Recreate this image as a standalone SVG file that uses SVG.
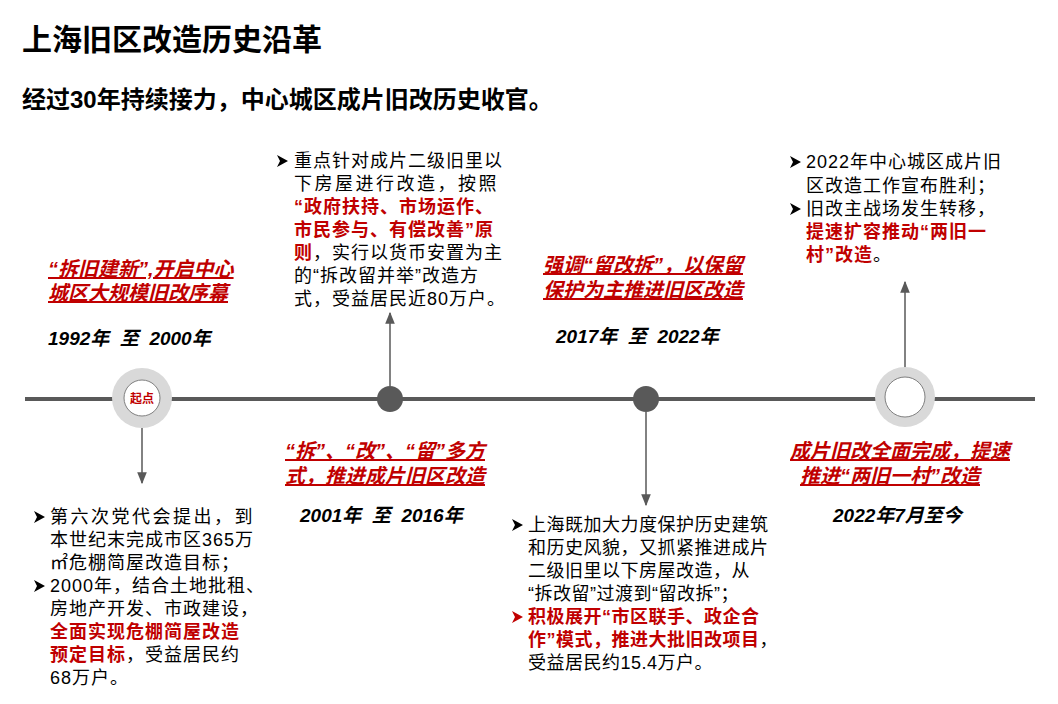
<svg xmlns="http://www.w3.org/2000/svg" width="1058" height="704" viewBox="0 0 1058 704">
<style>
text{font-family:"Liberation Sans","Noto Sans CJK SC",sans-serif;fill:#000}
.h1{font-size:30px;font-weight:bold}
.h2{font-size:24px;font-weight:bold}
.rt{font-size:20px;font-weight:bold;font-style:italic;fill:#c00000;text-decoration:underline}
.dt{font-size:19px;font-weight:bold;font-style:italic}
.b{font-size:18px;letter-spacing:1px}
.r{fill:#c00000;font-weight:bold}
.bul{fill:#000}
.ln{stroke:#595959;stroke-width:1.5;fill:none}
</style>
<defs>
<marker id="ar" viewBox="0 0 10 10" refX="9" refY="5" markerWidth="8" markerHeight="8" orient="auto"><path d="M0,1 L10,5 L0,9 z" fill="#595959"/></marker>
<path id="bu" d="M0,0 L11,6 L0,12 L3,6 z"/>
</defs>
<rect width="1058" height="704" fill="#fff"/>
<text class="h1" x="22" y="50">上海旧区改造历史沿革</text>
<text class="h2" x="22" y="108">经过30年持续接力，中心城区成片旧改历史收官。</text>
<g id="connectors">
<line x1="25" y1="399" x2="1035" y2="399" stroke="#595959" stroke-width="4"/>
<line class="ln" x1="142" y1="428" x2="142" y2="483" marker-end="url(#ar)"/>
<line class="ln" x1="390" y1="386" x2="390" y2="313" marker-end="url(#ar)"/>
<line class="ln" x1="646" y1="412" x2="646" y2="505" marker-end="url(#ar)"/>
<line class="ln" x1="905" y1="368" x2="905" y2="282" marker-end="url(#ar)"/>
</g>
<g id="n1">
<circle cx="142" cy="398" r="30" fill="#d9d9d9"/>
<circle cx="142" cy="398" r="18" fill="#fff" stroke="#7f7f7f" stroke-width="1"/>
<text x="142" y="403" text-anchor="middle" font-size="12" font-weight="bold" fill="#c00000" style="fill:#c00000">起点</text>
</g>
<g id="n2"><circle cx="390" cy="399" r="13" fill="#595959"/></g>
<g id="n3"><circle cx="646" cy="399" r="13" fill="#595959"/></g>
<g id="n4">
<circle cx="905" cy="397" r="30" fill="#d9d9d9"/>
<circle cx="905" cy="397" r="20" fill="#fff" stroke="#7f7f7f" stroke-width="1"/>
</g>
<g id="p1">
<text class="rt" x="48" y="276">“拆旧建新”,开启中心</text>
<text class="rt" x="48" y="300">城区大规模旧改序幕</text>
<text class="dt" x="48" y="345" xml:space="preserve">1992年  至  2000年</text>
<use href="#bu" x="34" y="511"/>
<text class="b" x="50" y="523" style="letter-spacing:2.5px">第六次党代会提出，到</text>
<text class="b" x="50" y="546">本世纪末完成市区365万</text>
<text class="b" x="50" y="569">㎡危棚简屋改造目标；</text>
<use href="#bu" x="34" y="580"/>
<text class="b" x="50" y="592">2000年，结合土地批租、</text>
<text class="b" x="50" y="615">房地产开发、市政建设，</text>
<text class="b r" x="50" y="638">全面实现危棚简屋改造</text>
<text class="b" x="50" y="661"><tspan class="r">预定目标</tspan>，受益居民约</text>
<text class="b" x="50" y="684">68万户。</text>
</g>
<g id="p2">
<use href="#bu" x="277" y="155"/>
<text class="b" x="294" y="167">重点针对成片二级旧里以</text>
<text class="b" x="294" y="190" style="letter-spacing:2.5px">下房屋进行改造，按照</text>
<text class="b r" x="294" y="213">“政府扶持、市场运作、</text>
<text class="b" x="294" y="236"><tspan class="r">市民参与、有偿改善”原</tspan></text>
<text class="b" x="294" y="259"><tspan class="r">则</tspan>，实行以货币安置为主</text>
<text class="b" x="294" y="282">的“拆改留并举”改造方</text>
<text class="b" x="294" y="305">式，受益居民近80万户。</text>
<text class="rt" x="285" y="458">“拆”、“改”、“留”多方</text>
<text class="rt" x="285" y="483">式，推进成片旧区改造</text>
<text class="dt" x="300" y="522" xml:space="preserve">2001年  至  2016年</text>
</g>
<g id="p3">
<text class="rt" x="543" y="272">强调“留改拆”，以保留</text>
<text class="rt" x="543" y="297">保护为主推进旧区改造</text>
<text class="dt" x="556" y="343" xml:space="preserve">2017年  至  2022年</text>
<use href="#bu" x="512" y="519"/>
<text class="b" x="528" y="531" style="letter-spacing:0.5px">上海既加大力度保护历史建筑</text>
<text class="b" x="528" y="554" style="letter-spacing:0.5px">和历史风貌，又抓紧推进成片</text>
<text class="b" x="528" y="577" style="letter-spacing:0.5px">二级旧里以下房屋改造，从</text>
<text class="b" x="528" y="600" style="letter-spacing:0.5px">“拆改留”过渡到“留改拆”；</text>
<use href="#bu" x="512" y="611" fill="#c00000"/>
<text class="b r" x="528" y="623" style="letter-spacing:0.5px">积极展开“市区联手、政企合</text>
<text class="b" x="528" y="646" style="letter-spacing:0.5px"><tspan class="r">作”模式，推进大批旧改项目</tspan>，</text>
<text class="b" x="528" y="669" style="letter-spacing:0.5px">受益居民约15.4万户。</text>
</g>
<g id="p4">
<use href="#bu" x="790" y="156"/>
<text class="b" x="806" y="168">2022年中心城区成片旧</text>
<text class="b" x="806" y="192">区改造工作宣布胜利；</text>
<use href="#bu" x="790" y="203"/>
<text class="b" x="806" y="215">旧改主战场发生转移，</text>
<text class="b r" x="806" y="238">提速扩容推动“两旧一</text>
<text class="b" x="806" y="261"><tspan class="r">村”改造</tspan>。</text>
<text class="rt" x="790" y="458">成片旧改全面完成，提速</text>
<text class="rt" x="800" y="483">推进“两旧一村”改造</text>
<text class="dt" x="833" y="522">2022年7月至今</text>
</g>
</svg>
